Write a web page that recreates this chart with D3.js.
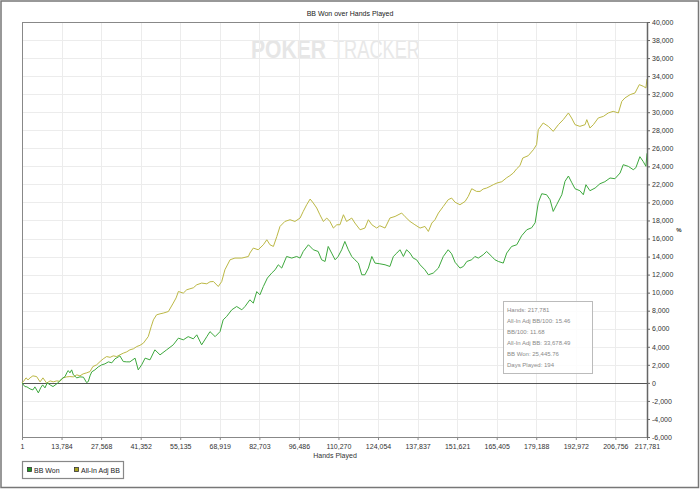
<!DOCTYPE html>
<html><head><meta charset="utf-8">
<script src="https://cdn.jsdelivr.net/npm/d3@7"></script>
<style>body{margin:0;background:#fff}svg{display:block}text{font-family:"Liberation Sans",Arial,sans-serif}</style>
</head><body><svg id="c" width="700" height="489"></svg>
<script>
const title = "BB Won over Hands Played";
const xTickValues = [1,13784,27568,41352,55135,68919,82703,96486,110270,124054,137837,151621,165405,179188,192972,206756,217781];
const yTickValues = [-6000,-4000,-2000,0,2000,4000,6000,8000,10000,12000,14000,16000,18000,20000,22000,24000,26000,28000,30000,32000,34000,36000,38000,40000];
const seriesNames = ["BB Won","All-In Adj BB"];
const infoLines = ["Hands: 217,781","All-In Adj BB/100: 15.46","BB/100: 11.68","All-In Adj BB: 33,678.49","BB Won: 25,445.76","Days Played: 194"];

const bbWonHands = [1,1000,1700,2800,3800,4500,5700,6500,7200,8000,8800,9800,10800,12100,13000,13800,15000,15600,16100,16700,17300,17900,19100,20200,21400,22500,23100,23700,24300,25400,26600,27800,28900,30100,31300,32400,33600,34100,35300,36500,37600,39400,40500,41700,42900,44600,46300,48100,50400,52700,54500,56200,57900,59700,60900,62600,64400,65500,67300,69000,70100,71300,73100,74800,76600,77700,79400,80600,81800,82900,84100,85500,87000,88200,89300,90500,92200,94000,95700,96900,98000,99800,101500,103200,104400,105600,106700,107900,109100,110100,111400,112500,113700,114900,116000,117200,118400,119500,120700,121900,123000,124700,126500,128200,129400,130600,131700,132900,134000,135200,136300,137500,138700,140400,141600,143300,145100,146800,148500,149700,150900,152600,153800,155000,156700,157800,159000,160700,161900,163700,164800,166000,167700,168900,170600,172400,174100,175900,177600,178800,179900,181100,182800,184000,185100,186300,188100,189200,190400,191500,192700,194400,195600,196500,197900,199700,201400,203100,204900,206600,208400,209500,211300,213000,213900,215300,216500,217400,217781];
const bbWonValues = [0,-410,-440,-670,-780,-444,-1110,-555,-222,-555,0,-222,-410,-111,144,444,699,1109,1364,1109,1442,887,555,666,632,33,144,777,1220,1442,1775,1997,2108,2330,2219,2662,2884,2995,2363,2330,2330,2740,1442,1997,2740,2551,3661,3106,3661,4215,4959,4770,5125,4881,5325,4215,5125,5680,5125,5680,6989,7355,8098,8464,8098,8464,9208,8841,10117,9762,10682,11614,12169,12535,13090,12724,14010,13833,14010,13833,14565,15308,14754,14565,13644,13456,15120,14387,13644,13977,14754,15674,14754,14010,13644,13278,11980,11980,12724,14010,13278,13200,13090,12901,14010,14388,14754,14010,14754,14388,13833,13644,13090,12535,11980,12169,12724,14010,14754,14310,13367,12724,12901,13456,13644,14010,13833,14199,14565,14010,13644,13456,13278,14388,15120,15308,16307,16972,17194,17749,19967,20966,20855,20300,19003,19746,20855,22330,22929,22241,21520,21299,20855,21964,21299,21598,22075,22297,22707,22630,23262,24183,23995,23628,23850,25070,24515,24000,25446];

const adjHands = [1,500,1400,2100,2800,3800,5100,6300,7300,8600,9800,10900,12100,13200,14300,15600,16700,17900,19100,20200,21300,22500,23700,24700,26000,27200,28300,29500,30700,31800,33000,34100,35300,36500,37600,38800,40000,41100,42300,44000,45000,45800,46900,48100,49200,51000,52700,53700,54500,56200,57400,58500,59700,60900,62600,64400,65500,66700,68400,69600,70700,72500,74200,76600,78900,79400,80600,82300,84100,85300,86400,87600,88800,89900,91600,93400,95100,96900,98000,99200,100400,101500,102700,103800,105000,106200,107300,108500,109700,110800,112000,113100,114900,116000,117800,119500,120700,121900,123600,124700,126500,128200,130000,132300,133500,135200,136900,138700,140400,141600,142800,143900,145100,146800,148500,149700,150900,152600,154400,155500,156700,158400,159600,160700,161900,163100,164200,165500,167200,168900,170000,171200,172400,173500,174500,176400,178200,179300,179900,181600,183400,185100,186900,188600,190400,191500,192700,194400,196200,196800,197900,199100,200800,202600,204300,206000,207800,209000,210100,211900,213600,215100,216500,217400,217781];
const adjValues = [0,144,555,333,555,777,699,111,555,-33,222,111,222,166,555,666,699,666,887,777,998,1109,1253,1808,1997,2363,2662,2917,2829,2995,2917,3106,3295,3439,3661,3772,4027,4160,4404,5136,6212,6989,7543,7654,7732,7909,8841,9418,10128,9950,10316,10427,10538,10871,11060,10982,11204,11237,10682,11237,12535,13644,13833,13833,14010,14388,14942,14754,15308,15863,15308,15120,16229,17338,17893,18082,17893,18270,19003,19746,20378,19934,19380,18636,17893,18270,17893,17161,17527,17527,18636,17893,18270,17716,16972,17161,18082,17527,17161,17416,17161,18270,18448,18825,18414,17893,17527,17161,17338,16784,17716,18082,18825,19557,20300,20489,20023,19746,20112,20667,21520,21221,21221,21487,21598,21776,21964,22153,22297,22741,22963,23262,23739,24072,24926,25181,25847,26401,28065,28808,28431,27877,28620,29175,29918,29364,28620,28431,28620,29175,28254,28620,29364,29541,29918,30096,29918,31205,31582,31948,32137,33058,32870,32692,33678];

const svg = d3.select("#c");
const W = 700, H = 489;
const pL = 22, pR = 647, pT = 22, pB = 437;
const x = d3.scaleLinear().domain([1, 217781]).range([pL, pR]);
const y = d3.scaleLinear().domain([-6000, 40000]).range([pB, pT]);

// outer frame
svg.append("rect").attr("x",1).attr("y",1).attr("width",W-2.5).attr("height",H-2.5)
  .attr("fill","#fff").attr("stroke","#777").attr("stroke-width",1.5);

// title
svg.append("text").attr("x",350).attr("y",16).attr("text-anchor","middle")
  .attr("font-size",7).attr("fill","#222").text(title);

// watermark (two separate texts)
svg.append("text").attr("x",251).attr("y",58).attr("font-size",25).attr("font-weight","bold")
  .attr("fill","#e6e6e6").attr("textLength",75).attr("lengthAdjust","spacingAndGlyphs").text("POKER");
svg.append("text").attr("x",333).attr("y",58).attr("font-size",25).attr("font-weight","normal")
  .attr("fill","#e8e8e8").attr("textLength",87).attr("lengthAdjust","spacingAndGlyphs").text("TRACKER");

// grid
const g = svg.append("g");
g.selectAll("line.hg").data(yTickValues.filter(v=>v!==0)).join("line")
  .attr("x1",pL).attr("x2",pR).attr("y1",d=>Math.round(y(d))+0.5).attr("y2",d=>Math.round(y(d))+0.5)
  .attr("stroke","#ececec").attr("stroke-width",1);
g.selectAll("line.vg").data(xTickValues.slice(1,-1)).join("line")
  .attr("x1",d=>Math.round(x(d))+0.5).attr("x2",d=>Math.round(x(d))+0.5).attr("y1",pT).attr("y2",pB)
  .attr("stroke","#ececec").attr("stroke-width",1);

// plot border left/top
svg.append("line").attr("x1",pL+0.5).attr("x2",pL+0.5).attr("y1",pT).attr("y2",pB).attr("stroke","#888");
svg.append("line").attr("x1",pL).attr("x2",pR).attr("y1",pT+0.5).attr("y2",pT+0.5).attr("stroke","#888");

// zero line
svg.append("line").attr("x1",pL).attr("x2",pR).attr("y1",Math.round(y(0))+0.5).attr("y2",Math.round(y(0))+0.5).attr("stroke","#555").attr("stroke-width",1);

// lines
const line = d3.line().x(d=>x(d[0])).y(d=>y(d[1]));
const n1 = Math.min(adjHands.length, adjValues.length);
const n2 = Math.min(bbWonHands.length, bbWonValues.length);
const adjData = adjHands.slice(0,n1).map((h,i)=>[h,adjValues[i]]);
const wonData = bbWonHands.slice(0,n2).map((h,i)=>[h,bbWonValues[i]]);
svg.append("path").datum(adjData).attr("d",line).attr("fill","none").attr("stroke","#bcb845").attr("stroke-width",1);
svg.append("path").datum(wonData).attr("d",line).attr("fill","none").attr("stroke","#3da83d").attr("stroke-width",1);

// x axis
const xAxis = d3.axisBottom(x).tickValues(xTickValues).tickSize(3).tickSizeOuter(0)
  .tickFormat(d=>d3.format(",")(d));
const xa = svg.append("g").attr("transform",`translate(0,${pB})`).call(xAxis);
xa.select(".domain").attr("stroke","#888");
xa.selectAll(".tick line").attr("stroke","#888");
xa.selectAll("text").attr("font-size",7).attr("fill","#333").attr("font-family","'Liberation Sans',Arial,sans-serif").attr("dy","0.9em");

// y axis right
const yAxis = d3.axisRight(y).tickValues(yTickValues).tickSize(3).tickSizeOuter(0)
  .tickFormat(d=>d3.format(",")(d).replace("\u2212","-"));
const ya = svg.append("g").attr("transform",`translate(${pR},0)`).call(yAxis);
ya.select(".domain").attr("stroke","#666").attr("stroke-width",1.5);
ya.selectAll(".tick line").attr("stroke","#666");
ya.selectAll("text").attr("font-size",7).attr("fill","#333").attr("font-family","'Liberation Sans',Arial,sans-serif").attr("x",5);

// axis titles
svg.append("text").attr("x",335).attr("y",458).attr("text-anchor","middle").attr("font-size",7).attr("fill","#333").text("Hands Played");
svg.append("text").attr("x",679).attr("y",232).attr("text-anchor","middle").attr("font-size",6).attr("font-weight","bold").attr("fill","#333").text("%");

// info box
const ib = svg.append("g");
ib.append("rect").attr("x",503.5).attr("y",301.5).attr("width",89).attr("height",72)
  .attr("fill","#fff").attr("fill-opacity",0.85).attr("stroke","#bbb").attr("stroke-width",1);
ib.selectAll("text").data(infoLines).join("text")
  .attr("x",507).attr("y",(d,i)=>311.5+i*11).attr("font-size",6).attr("fill","#8a8a8a")
  .attr("font-family","'Open Sans','Noto Sans',sans-serif").text(d=>d);

// legend
const lg = svg.append("g");
lg.append("rect").attr("x",22.5).attr("y",461.5).attr("width",101).attr("height",17)
  .attr("fill","#fff").attr("stroke","#888").attr("stroke-width",1.2);
const legColors = ["#1e9a1e","#a9a41e"];
const legX = [27, 74];
seriesNames.forEach((n,i)=>{
  lg.append("rect").attr("x",legX[i]+0.5).attr("y",467.5).attr("width",4).attr("height",4)
    .attr("fill",legColors[i]).attr("stroke","#333").attr("stroke-width",0.8);
  lg.append("text").attr("x",legX[i]+7).attr("y",472.5).attr("font-size",7).attr("fill","#222").text(n);
});
</script></body></html>
